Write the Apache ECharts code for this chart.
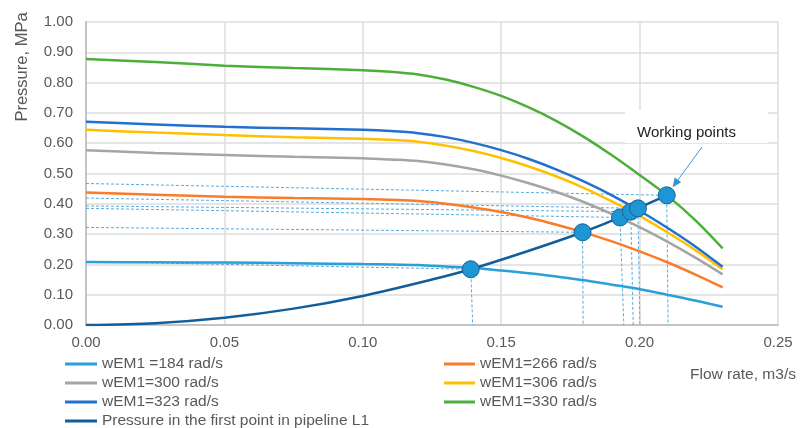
<!DOCTYPE html>
<html>
<head>
<meta charset="utf-8">
<script src="https://cdn.jsdelivr.net/npm/echarts@6/dist/echarts.min.js"></script>
<style>
  html, body { margin: 0; padding: 0; background: #ffffff; }
  #chart { width: 808px; height: 428px; }
</style>
</head>
<body>
<div id="chart"></div>
<script>
// Flow rate samples (m3/s) for the pump head curves
const flowRate = [0, 0.025, 0.05, 0.075, 0.10, 0.11, 0.12, 0.13, 0.14, 0.15, 0.16, 0.17, 0.18, 0.19, 0.20, 0.21, 0.22, 0.23];

// Pump pressure (MPa) at each motor speed wEM1
const pressure184 = [0.208, 0.207, 0.206, 0.204, 0.201, 0.200, 0.198, 0.193, 0.188, 0.180, 0.171, 0.160, 0.148, 0.133, 0.118, 0.100, 0.081, 0.060];
const pressure266 = [0.437, 0.430, 0.423, 0.419, 0.416, 0.413, 0.409, 0.400, 0.388, 0.373, 0.354, 0.331, 0.305, 0.276, 0.243, 0.207, 0.167, 0.124];
const pressure300 = [0.577, 0.568, 0.561, 0.555, 0.550, 0.546, 0.541, 0.530, 0.514, 0.493, 0.468, 0.439, 0.405, 0.366, 0.323, 0.275, 0.223, 0.167];
const pressure306 = [0.644, 0.635, 0.627, 0.620, 0.615, 0.611, 0.605, 0.592, 0.574, 0.551, 0.523, 0.490, 0.452, 0.408, 0.360, 0.306, 0.248, 0.184];
const pressure323 = [0.671, 0.662, 0.654, 0.649, 0.644, 0.640, 0.633, 0.620, 0.601, 0.577, 0.548, 0.513, 0.473, 0.428, 0.377, 0.321, 0.260, 0.192];
const pressure330 = [0.878, 0.868, 0.856, 0.848, 0.841, 0.836, 0.827, 0.810, 0.786, 0.756, 0.718, 0.673, 0.620, 0.560, 0.495, 0.427, 0.347, 0.253];

// Pipeline L1 characteristic: pressure in the first point
const pipeFlow     = [0, 0.025, 0.05, 0.075, 0.10, 0.125, 0.139, 0.16, 0.1794, 0.1929, 0.1968, 0.1994, 0.2098];
const pipePressure = [0, 0.006, 0.024, 0.054, 0.096, 0.150, 0.184, 0.245, 0.306, 0.355, 0.374, 0.385, 0.428];

// Working points (pump curve x pipeline curve)
const workFlow     = [0.139, 0.1794, 0.1929, 0.1968, 0.1994, 0.2098];
const workPressure = [0.184, 0.306, 0.355, 0.374, 0.385, 0.428];
// Guide lines from each working point to the axes
const guideAxisPressure = [0.209, 0.322, 0.385, 0.393, 0.419, 0.467];
const guideAxisFlow     = [0.1397, 0.1796, 0.1943, 0.1977, 0.2001, 0.2103];

// Tick labels
const xTicks = [0, 0.05, 0.10, 0.15, 0.20, 0.25];
const yTicks = [0, 0.1, 0.2, 0.3, 0.4, 0.5, 0.6, 0.7, 0.8, 0.9, 1.0];

const seriesNames = ['wEM1 =184 rad/s', 'wEM1=266 rad/s', 'wEM1=300 rad/s', 'wEM1=306 rad/s', 'wEM1=323 rad/s', 'wEM1=330 rad/s'];
const pipeName = 'Pressure in the first point in pipeline L1';
const axisXName = 'Flow rate, m3/s';
const axisYName = 'Pressure, MPa';
const noteText = 'Working points';

const curveColors = ['#2A9FD8', '#FA7C2B', '#A5A5A5', '#FFC000', '#2271CE', '#4DAE3B'];
const pipeColor = '#115E9B';
const guideColor = '#55AAE0';
const FONT = '"Liberation Sans", Arial, sans-serif';

const pumpCurves = [pressure184, pressure266, pressure300, pressure306, pressure323, pressure330];

const chart = echarts.init(document.getElementById('chart'), null, { renderer: 'canvas' });

const series = [];

// dashed guides: axis -> working point -> axis
workFlow.forEach((q, i) => {
  series.push({
    type: 'line',
    silent: true,
    symbol: 'none',
    z: 1,
    lineStyle: { color: guideColor, width: 1, type: [3, 2] },
    data: [[0, guideAxisPressure[i]], [q, workPressure[i]], [guideAxisFlow[i], 0]]
  });
});

pumpCurves.forEach((vals, i) => {
  series.push({
    name: seriesNames[i],
    type: 'line',
    symbol: 'none',
    smooth: 0.3,
    z: 3,
    color: curveColors[i],
    lineStyle: { color: curveColors[i], width: 2.5 },
    data: flowRate.map((q, k) => [q, vals[k]])
  });
});

series.push({
  name: pipeName,
  type: 'line',
  symbol: 'none',
  smooth: 0.3,
  z: 4,
  color: pipeColor,
  lineStyle: { color: pipeColor, width: 2.5 },
  data: pipeFlow.map((q, k) => [q, pipePressure[k]])
});

series.push({
  type: 'scatter',
  symbol: 'circle',
  symbolSize: 17,
  z: 5,
  itemStyle: { color: '#1E95D5', borderColor: '#176499', borderWidth: 1, opacity: 1 },
  data: workFlow.map((q, k) => [q, workPressure[k]])
});

const legendText = { color: '#595959', fontSize: 15.5, fontFamily: FONT, lineHeight: 14 };

chart.setOption({
  animation: false,
  backgroundColor: '#ffffff',
  grid: { left: 86, right: 30, top: 22, bottom: 103, containLabel: false },
  xAxis: {
    type: 'value',
    min: xTicks[0],
    max: xTicks[xTicks.length - 1],
    interval: 0.05,
    axisLine: { show: true, lineStyle: { color: '#c4c4c4', width: 2 } },
    axisTick: { show: false },
    axisLabel: { color: '#595959', fontSize: 15, fontFamily: FONT, margin: 10, formatter: v => v.toFixed(2) },
    splitLine: { show: true, lineStyle: { color: '#dcdcdc', width: 1.5 } }
  },
  yAxis: {
    type: 'value',
    min: yTicks[0],
    max: yTicks[yTicks.length - 1],
    interval: 0.1,
    axisLine: { show: true, lineStyle: { color: '#c4c4c4', width: 2 } },
    axisTick: { show: false },
    axisLabel: { color: '#595959', fontSize: 15, fontFamily: FONT, margin: 13, formatter: v => v.toFixed(2) },
    splitLine: { show: true, lineStyle: { color: '#dcdcdc', width: 1.5 } }
  },
  legend: [
    {
      data: [seriesNames[0], seriesNames[2], seriesNames[4], pipeName],
      orient: 'vertical',
      left: 65, top: 356, height: 80,
      padding: 0,
      itemWidth: 32, itemHeight: 3, itemGap: 3,
      icon: 'rect',
      textStyle: legendText,
      selectedMode: false
    },
    {
      data: [seriesNames[1], seriesNames[3], seriesNames[5]],
      orient: 'vertical',
      left: 444, top: 356, height: 80,
      padding: 0,
      itemWidth: 31, itemHeight: 3, itemGap: 3,
      icon: 'rect',
      textStyle: legendText,
      selectedMode: false
    }
  ],
  series: series
});

// axis titles and the working-point note with its arrow
const tip = chart.convertToPixel({ gridIndex: 0 }, [workFlow[5], workPressure[5]]);
const start = [702, 147];
const dx = start[0] - tip[0], dy = start[1] - tip[1];
const len = Math.sqrt(dx * dx + dy * dy);
const ux = dx / len, uy = dy / len;
const end = [tip[0] + ux * 10, tip[1] + uy * 10];
const headLen = 9, headW = 4;
const base = [end[0] + ux * headLen, end[1] + uy * headLen];
const px = -uy, py = ux;

chart.setOption({
  graphic: [
    {
      type: 'text', left: 690, top: 367,
      style: { text: axisXName, fill: '#595959', font: '15.5px ' + FONT }
    },
    {
      type: 'text', x: 22, y: 67, rotation: Math.PI / 2,
      style: { text: axisYName, fill: '#595959', font: '16.5px ' + FONT, align: 'center', verticalAlign: 'middle' }
    },
    {
      type: 'rect', shape: { x: 625, y: 110, width: 143, height: 33 },
      style: { fill: '#ffffff' }, z: 10
    },
    {
      type: 'text', x: 637, y: 133, z: 11,
      style: { text: noteText, fill: '#222222', font: '15px ' + FONT, verticalAlign: 'middle' }
    },
    {
      type: 'line', z: 11,
      shape: { x1: start[0], y1: start[1], x2: base[0], y2: base[1] },
      style: { stroke: '#3A9BDC', lineWidth: 1 }
    },
    {
      type: 'polygon', z: 11,
      shape: { points: [end, [base[0] + px * headW, base[1] + py * headW], [base[0] - px * headW, base[1] - py * headW]] },
      style: { fill: '#2E94D6' }
    }
  ]
});
</script>
</body>
</html>
